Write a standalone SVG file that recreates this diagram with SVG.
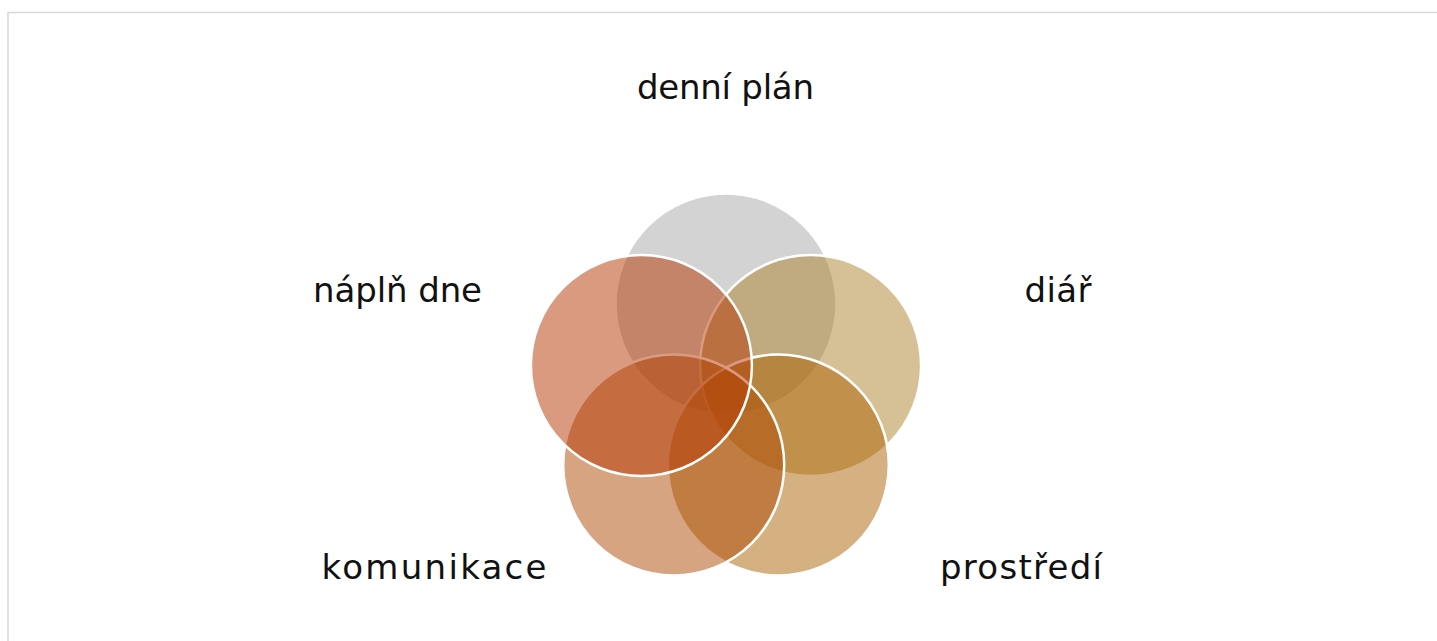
<svg xmlns="http://www.w3.org/2000/svg" width="1437" height="641" viewBox="0 0 1437 641">
<style>
.c{stroke:#fff;stroke-width:2.5;fill-opacity:0.5}
.t{font-family:"DejaVu Sans",sans-serif;font-size:34px;fill:#111;text-anchor:middle}
</style>
<rect width="1437" height="641" fill="#fff"/>
<path d="M8,641 V12.5 H1437" fill="none" stroke="#d9d9d9" stroke-width="1.5"/>
<g id="denni-plan"><circle class="c" cx="726" cy="304" r="110.5" fill="#a7a7a7"/><text class="t" x="725.5" y="99" textLength="177">denní plán</text></g>
<g id="diar"><circle class="c" cx="810.6" cy="365.5" r="110.5" fill="#ad832d"/><text class="t" x="1058" y="302" textLength="67">diář</text></g>
<g id="prostredi"><circle class="c" cx="778.3" cy="465" r="110.5" fill="#ab6202"/><text class="t" x="1021" y="579" textLength="162">prostředí</text></g>
<g id="komunikace"><circle class="c" cx="673.7" cy="465" r="110.5" fill="#ad4a02"/><text class="t" x="434" y="579" textLength="225">komunikace</text></g>
<g id="napln-dne"><circle class="c" cx="641.4" cy="365.5" r="110.5" fill="#b33501"/><text class="t" x="397.5" y="302" textLength="169">náplň dne</text></g>
<g id="connectors"/>
</svg>
